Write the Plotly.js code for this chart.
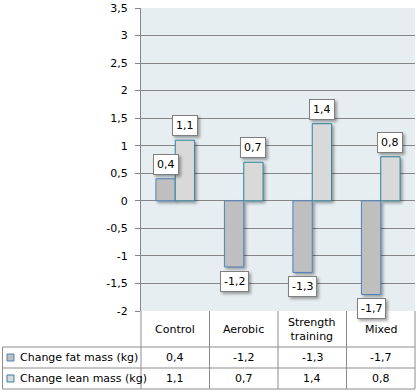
<!DOCTYPE html>
<html>
<head>
<meta charset="utf-8">
<script src="https://cdn.plot.ly/plotly-3.0.1.min.js"></script>
<style>
html,body{margin:0;padding:0;background:#fff;}
#chart{width:417px;height:392px;}
.bars .point path{filter:drop-shadow(2px 2px 1.5px rgba(0,0,0,0.35));}
.annotation rect.bg{filter:drop-shadow(2px 2px 1.5px rgba(0,0,0,0.35));}
</style>
</head>
<body>
<div id="chart"></div>
<script>
var categories = ['Control', 'Aerobic', 'Strength training', 'Mixed'];
var headerLabels = ['Control', 'Aerobic', 'Strength<br>training', 'Mixed'];
var seriesNames = ['Change fat mass (kg)', 'Change lean mass (kg)'];
var fatMass = [0.4, -1.2, -1.3, -1.7];
var leanMass = [1.1, 0.7, 1.4, 0.8];
var yTickVals = [-2, -1.5, -1, -0.5, 0, 0.5, 1, 1.5, 2, 2.5, 3, 3.5];

function fmt(v){ return String(v).replace('.', ','); }

var FONT = 'DejaVu Sans, Verdana, sans-serif';
var FS = 11;
var W = 417, H = 392;
var L = 141, R = 2, T = 8, B = 81;
var plotW = W - L - R, plotH = H - T - B;
var bargap = 0.436;
var catPx = plotW / categories.length;
var halfBar = catPx * (1 - bargap) / 4;

// pixel -> paper helpers for the data-table area below the plot
function px(p){ return (p - L) / plotW; }
function py(p){ return (H - B - p) / plotH; }

var fatColor = '#BFBFBF', fatLine = '#4F81BD';
var leanColor = '#D9D9D9', leanLine = '#31859C';
var gridColor = '#868686', tableLine = '#8C8C8C';
var seriesStyle = [[fatColor, fatLine], [leanColor, leanLine]];
var seriesVals = [fatMass, leanMass];

var traces = [
  {type:'bar', x:categories, y:fatMass, name:seriesNames[0],
   marker:{color:fatColor, line:{color:fatLine, width:1}}, hoverinfo:'none', cliponaxis:false},
  {type:'bar', x:categories, y:leanMass, name:seriesNames[1],
   marker:{color:leanColor, line:{color:leanLine, width:1}}, hoverinfo:'none', cliponaxis:false}
];

var annotations = [];
var txtFont = {family:FONT, size:FS, color:'#000'};
// value labels on bars
seriesVals.forEach(function(vals, k){
  var shift = k === 0 ? -halfBar : halfBar;
  vals.forEach(function(v,i){
    annotations.push({x:categories[i], y:v, xref:'x', yref:'y', text:fmt(v),
      showarrow:false, xshift:shift, yanchor: v>=0?'bottom':'top', yshift: v>=0?4:-4,
      bgcolor:'white', bordercolor:'#7F7F7F', borderwidth:1, borderpad:3, font:txtFont});
  });
});

// data table: header row, then one row per series
var headerY = 329, rowY = [357.5, 378.5];
categories.forEach(function(c,i){
  annotations.push({x:c, xref:'x', y:py(headerY), yref:'paper', text:headerLabels[i],
    showarrow:false, xanchor:'center', yanchor:'middle', font:txtFont});
});
seriesNames.forEach(function(name,k){
  annotations.push({x:px(18), xref:'paper', y:py(rowY[k]), yref:'paper', text:name,
    showarrow:false, xanchor:'left', yanchor:'middle', font:txtFont});
  seriesVals[k].forEach(function(v,i){
    annotations.push({x:categories[i], xref:'x', y:py(rowY[k]), yref:'paper', text:fmt(v),
      showarrow:false, xanchor:'center', yanchor:'middle', font:txtFont});
  });
});

var shapes = [];
var tl = {color:tableLine, width:1};
[347, 368, 389].forEach(function(y){
  shapes.push({type:'line', xref:'paper', yref:'paper', x0:px(2.5), x1:1, y0:py(y), y1:py(y), line:tl});
});
// column boundaries between categories (through the category axis)
for (var i = 0; i < categories.length - 1; i++){
  shapes.push({type:'line', xref:'x', yref:'paper', x0:i+0.5, x1:i+0.5, y0:0, y1:py(389), line:tl});
}
shapes.push({type:'line', xref:'paper', yref:'paper', x0:0, x1:0, y0:py(311), y1:py(389), line:tl});
shapes.push({type:'line', xref:'paper', yref:'paper', x0:1, x1:1, y0:py(311), y1:py(389), line:tl});
shapes.push({type:'line', xref:'paper', yref:'paper', x0:px(2.5), x1:px(2.5), y0:py(347), y1:py(389), line:tl});
// legend keys
seriesStyle.forEach(function(c,k){
  shapes.push({type:'rect', xref:'paper', yref:'paper',
    x0:px(7), x1:px(14), y0:py(rowY[k]+3.5), y1:py(rowY[k]-3.5),
    fillcolor:c[0], line:{color:c[1], width:1}});
});

var layout = {
  width:W, height:H,
  margin:{l:L, r:R, t:T, b:B},
  paper_bgcolor:'white', plot_bgcolor:'#E7EEF1',
  barmode:'group', bargap:bargap, bargroupgap:0,
  font:txtFont,
  xaxis:{type:'category', range:[-0.5, 3.5], showticklabels:false,
    showgrid:false, zeroline:false, showline:false, fixedrange:true},
  yaxis:{range:[-2, 3.5], tickvals:yTickVals, ticktext:yTickVals.map(fmt),
    showgrid:true, gridcolor:gridColor, gridwidth:1,
    zeroline:false, showline:true, linecolor:gridColor, linewidth:1,
    ticks:'outside', ticklen:5, tickcolor:gridColor, ticklabelstandoff:5,
    tickfont:txtFont, fixedrange:true},
  annotations:annotations,
  shapes:shapes,
  showlegend:false
};

Plotly.newPlot('chart', traces, layout, {displayModeBar:false, staticPlot:true});
</script>
</body>
</html>
